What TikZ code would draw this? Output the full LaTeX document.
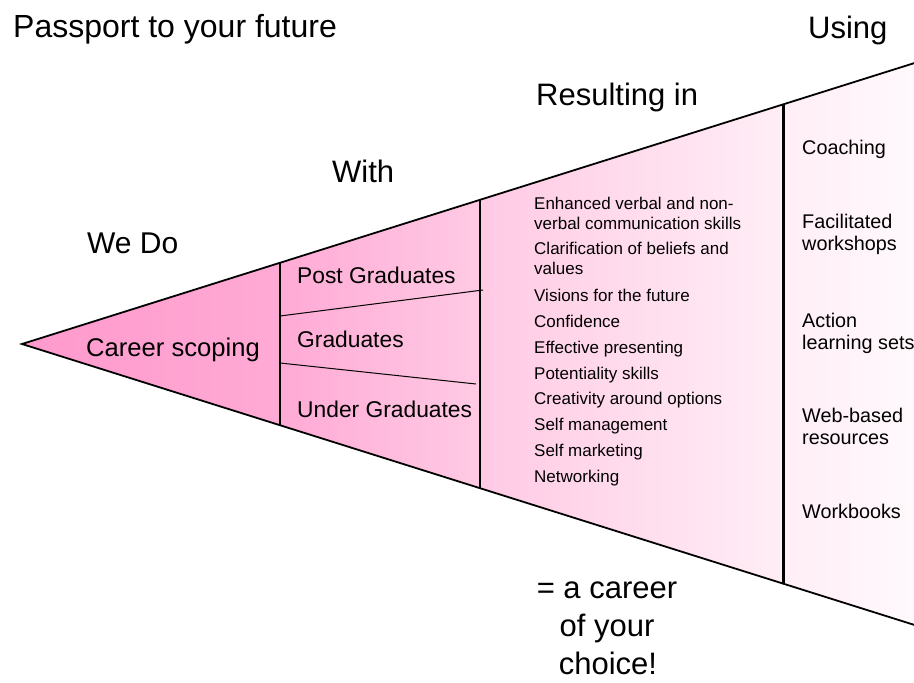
\documentclass[tikz,border=0pt]{standalone}
\usepackage{fontspec}
\setmainfont{Liberation Sans}
\usetikzlibrary{calc}
\definecolor{pinkA}{HTML}{FF99CC}
\definecolor{pinkB}{HTML}{FFAAD5}
\definecolor{pinkC}{HTML}{FFCAE4}
\definecolor{pinkD}{HTML}{FFEEF6}
\definecolor{pinkE}{HTML}{FFFBFD}
\pgfdeclarehorizontalshading{funnelshade}{100bp}{color(0bp)=(pinkA); color(25bp)=(pinkA); color(39bp)=(pinkB); color(50bp)=(pinkC); color(66.5bp)=(pinkD); color(75bp)=(pinkE); color(100bp)=(pinkE)}
\begin{document}
\begin{tikzpicture}[x=1pt,y=-1pt,
  head/.style={font=\fontsize{30}{36}\selectfont, inner sep=0pt, anchor=base west},
  mid/.style={font=\fontsize{22.8}{27}\selectfont, inner sep=0pt, anchor=base west},
  res/.style={font=\fontsize{17}{20}\selectfont, inner sep=0pt, anchor=base west},
  use/.style={font=\fontsize{19.8}{23}\selectfont, inner sep=0pt, anchor=base west},
  tail/.style={font=\fontsize{31}{37}\selectfont, inner sep=0pt, anchor=base},
  outline/.style={line width=1.8pt},
  thinsep/.style={line width=1.4pt},
  divider/.style={line width=1pt},
  thicksep/.style={line width=3pt}]
\useasboundingbox (0,0) rectangle (914,683);
\coordinate (apex) at (22,344);
\coordinate (tr) at (940,55);
\coordinate (br) at (940,633);
\coordinate (a1) at (280,262.8);
\coordinate (a2) at (280,425.2);
\coordinate (b1) at (480,199.8);
\coordinate (b2) at (480,488.2);
\coordinate (c1) at (783,104.4);
\coordinate (c2) at (783,583.6);
\coordinate (d1) at (280,316);
\coordinate (d2) at (483,290);
\coordinate (e1) at (280,363);
\coordinate (e2) at (476,384);
\begin{scope}
\clip (0,0) rectangle (914,683);
\shade[shading=funnelshade] (apex) -- (tr) -- (br) -- cycle;
\draw[outline, line join=miter] (tr) -- (apex) -- (br);
\end{scope}
\draw[thinsep] (a1) -- (a2);
\draw[thinsep] (b1) -- (b2);
\draw[thicksep] (c1) -- (c2);
\draw[divider] (d1) -- (d2);
\draw[divider] (e1) -- (e2);
% headings
\node[head, font=\fontsize{32}{38}\selectfont] (title) at (13,37) {Passport to your future};
\node[head, font=\fontsize{31}{37}\selectfont] (using) at (808,38) {Using};
\node[head, font=\fontsize{31}{37}\selectfont] (resulting) at (536,105) {Resulting in};
\node[head, font=\fontsize{31}{37}\selectfont] (with) at (332,182) {With};
\node[head] (wedo) at (87,253) {We Do};
% first section
\node[inner sep=0pt, anchor=base west, font=\fontsize{25.6}{30}\selectfont] (career) at (86,356) {Career scoping};
% second section
\node[mid] (post) at (297,283) {Post Graduates};
\node[mid] (grad) at (297,347) {Graduates};
\node[mid] (under) at (297,417) {Under Graduates};
% results
\node[res] (r1a) at (534,209) {Enhanced verbal and non-};
\node[res] (r1b) at (534,229) {verbal communication skills};
\node[res] (r2a) at (534,254) {Clarification of beliefs and};
\node[res] (r2b) at (534,274) {values};
\node[res] (r3) at (534,301) {Visions for the future};
\node[res] (r4) at (534,327) {Confidence};
\node[res] (r5) at (534,353) {Effective presenting};
\node[res] (r6) at (534,379) {Potentiality skills};
\node[res] (r7) at (534,404) {Creativity around options};
\node[res] (r8) at (534,430) {Self management};
\node[res] (r9) at (534,456) {Self marketing};
\node[res] (r10) at (534,482) {Networking};
% using
\node[use] (u1) at (802,154) {Coaching};
\node[use] (u2a) at (802,228) {Facilitated};
\node[use] (u2b) at (802,250) {workshops};
\node[use] (u3a) at (802,327) {Action};
\node[use] (u3b) at (802,349) {learning sets};
\node[use] (u4a) at (802,422) {Web-based};
\node[use] (u4b) at (802,444) {resources};
\node[use] (u5) at (802,518) {Workbooks};
% tail
\node[tail] (t1) at (607,598) {= a career};
\node[tail] (t2) at (607,636) {of your};
\node[tail] (t3) at (608,674) {choice!};
\end{tikzpicture}
\end{document}
